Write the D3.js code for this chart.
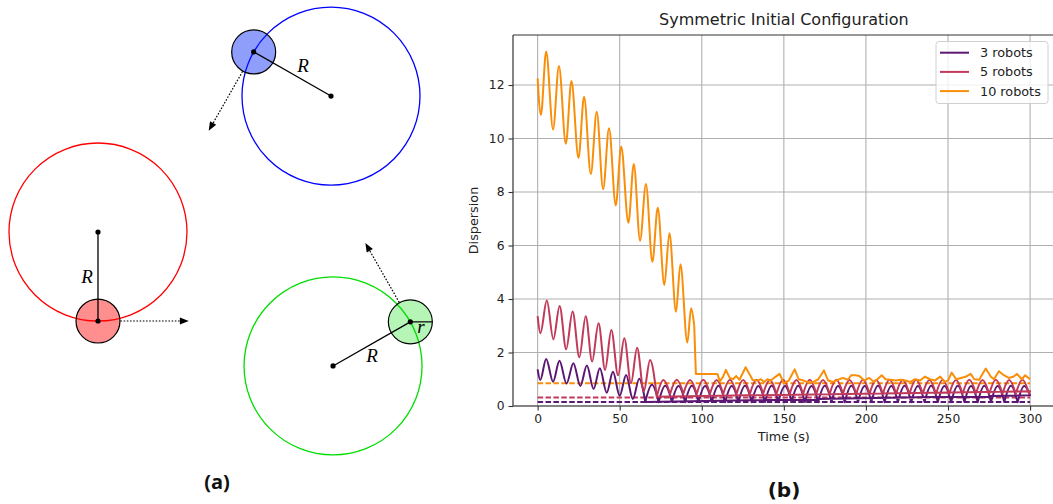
<!DOCTYPE html>
<html><head><meta charset="utf-8">
<script src="https://cdn.jsdelivr.net/npm/d3@7"></script>
<style>body{margin:0;background:#fff} svg{display:block}</style>
</head><body>
<svg id="fig" width="1053" height="504"></svg>
<script>
// ---------------- DATA ----------------
const seriesNames = ["3 robots", "5 robots", "10 robots"];
const seriesColors = ["#5c1773", "#c13a5a", "#f98e09"];
const xTicks = [0, 50, 100, 150, 200, 250, 300];
const yTicks = [0, 2, 4, 6, 8, 10, 12];
const baselines = [0.15, 0.32, 0.85];   // dashed reference levels (3, 5, 10 robots)

const purpleEarly = [[0,1.37],[1.6,0.97],[5.2,1.76],[9.4,0.91],[13.3,1.69],[17.6,0.84],[21.8,1.60],[26.0,0.75],[30.0,1.51],[34.1,0.64],[37.9,1.41],[42.1,0.50],[45.9,1.28],[50.0,0.38],[53.9,1.16],[58.0,0.26],[61.9,1.02],[65.6,0.15]];
const purpleSteady = [[65.6,0.15],[69.65,0.79],[73.7,0.14],[77.75,0.76],[81.8,0.15],[85.85,0.75],[89.9,0.14],[93.95,0.76],[98.0,0.15],[102.05,0.75],[106.1,0.15],[110.15,0.76],[114.2,0.14],[118.25,0.75],[122.3,0.15],[126.35,0.76],[130.4,0.14],[134.45,0.75],[138.5,0.15],[142.55,0.76],[146.6,0.14],[150.65,0.75],[154.7,0.15],[158.75,0.76],[162.8,0.15],[166.85,0.75],[170.9,0.14],[174.95,0.76],[179.0,0.15],[183.05,0.75],[187.1,0.14],[191.15,0.76],[195.2,0.15],[199.25,0.75],[203.3,0.15],[207.35,0.76],[211.4,0.14],[215.45,0.75],[219.5,0.15],[223.55,0.76],[227.6,0.14],[231.65,0.75],[235.7,0.15],[239.75,0.76],[243.8,0.15],[247.85,0.75],[251.9,0.14],[255.95,0.76],[260.0,0.15],[264.05,0.75],[268.1,0.14],[272.15,0.76],[276.2,0.15],[280.25,0.75],[284.3,0.15],[288.35,0.76],[292.4,0.14],[296.45,0.75],[300,0.40]];

const pinkEarly = [[0,3.36],[1.7,2.72],[5.6,3.94],[9.6,2.49],[13.4,3.74],[17.4,2.12],[21.3,3.53],[25.4,1.82],[29.3,3.36],[33.2,1.66],[37.1,3.09],[41.1,1.35],[44.9,2.84],[49.0,1.15],[52.8,2.53],[56.9,0.85],[60.6,2.18],[64.7,0.55],[68.5,1.72],[72.6,0.35]];
const pinkSteady = [[72.6,0.35],[76.65,0.97],[80.7,0.45],[84.75,0.98],[88.8,0.46],[92.85,0.97],[96.9,0.45],[100.95,0.98],[105.0,0.46],[109.05,0.97],[113.1,0.45],[117.15,0.98],[121.2,0.46],[125.25,0.97],[129.3,0.45],[133.35,0.98],[137.4,0.46],[141.45,0.97],[145.5,0.45],[149.55,0.98],[153.6,0.46],[157.65,0.97],[161.7,0.45],[165.75,0.98],[169.8,0.46],[173.85,0.97],[177.9,0.45],[181.95,0.98],[186.0,0.46],[190.05,0.97],[194.1,0.45],[198.15,0.98],[202.2,0.46],[206.25,0.97],[210.3,0.45],[214.35,0.98],[218.4,0.46],[222.45,0.97],[226.5,0.45],[230.55,0.98],[234.6,0.46],[238.65,0.97],[242.7,0.45],[246.75,0.98],[250.8,0.46],[254.85,0.97],[258.9,0.45],[262.95,0.98],[267.0,0.46],[271.05,0.97],[275.1,0.45],[279.15,0.98],[283.2,0.46],[287.25,0.97],[291.3,0.45],[295.35,0.98],[299.4,0.46],[300,0.55]];

const orangeEarly = [[0,12.25],[2.0,10.88],[5.2,13.25],[9.4,10.34],[13.0,12.71],[17.2,9.80],[20.6,12.15],[24.9,9.27],[28.3,11.56],[32.4,8.67],[36.0,11.00],[39.9,8.10],[43.5,10.38],[47.6,7.50],[50.9,9.70],[55.3,6.85],[58.6,9.05],[62.4,6.18],[66.0,8.30],[69.9,5.39],[73.2,7.41],[77.2,4.52],[80.3,6.46],[84.3,3.52],[87.0,5.30],[91.2,2.37],[93.5,3.65],[95.4,3.0]];
const orangeLate = [[95.4,3.0],[96.4,1.2],[109.5,1.2],[111,0.92],[113,1.1],[114.7,1.35],[117,1.05],[119,1.0],[121,1.12],[123,0.98],[126.7,1.45],[129,1.2],[131,0.97],[134,0.95],[136,1.0],[138,0.9],[140,1.0],[142,0.95],[144,1.05],[147.4,1.2],[150,0.85],[153,0.95],[156.6,1.37],[159,1.0],[162,0.95],[165,0.88],[168,0.9],[171,1.0],[174.4,1.33],[177,0.95],[180,0.9],[183,0.98],[186,1.05],[189,0.98],[191,1.15],[193.5,1.15],[196,1.12],[199,0.95],[202,1.05],[205,0.9],[207,1.0],[209.6,1.15],[212,1.0],[215,0.98],[218,0.95],[221,0.98],[224,0.95],[227,0.9],[230,1.0],[233,0.95],[236,1.1],[239,1.0],[242,0.95],[245.3,1.1],[248,0.9],[250,0.95],[252.2,1.25],[255,1.0],[258,1.05],[261,1.1],[263.8,1.2],[266,1.0],[269,0.98],[271,1.2],[273,1.4],[276,1.1],[278,1.0],[281,1.3],[284,1.15],[287,1.05],[290,1.1],[292,1.2],[295,1.0],[297,1.15],[300,1.0]];

// Diagram (panel a), in units of the orbit radius R
const orbitCenters = [[1.101,2.607],[3.719,1.079],[3.742,4.112]];   // red, blue, green
const robotAngles = [90, 209.7, -29.7];                               // degrees, screen orientation
const orbitColors = ["#ff0000", "#0000ff", "#00dd00"];
const robotFills = ["#ff0000", "#0020f6", "#00dc00"];
const robotAlphas = [0.44, 0.44, 0.29];
const robotRadius = 0.247;
const rLabels = [[0.978,3.18],[3.404,0.809],[4.18,4.067]];
const smallRLabel = [4.73,3.742];

// ---------------- DRAWING ----------------
const svg = d3.select("#fig");
const FONT = "DejaVu Sans, sans-serif";

// custom curve: rounded at peaks, cusp at valleys (|sin|-like arches)
function CuspCurve(ctx){ this._context = ctx; }
CuspCurve.prototype = {
  areaStart(){ this._line = 0; }, areaEnd(){ this._line = NaN; },
  lineStart(){ this._point = 0; },
  lineEnd(){ if (this._line || (this._line !== 0 && this._point === 1)) this._context.closePath(); this._line = 1 - this._line; },
  point(x, y){
    x = +x; y = +y;
    if (this._point === 0){ this._point = 1; this._line ? this._context.lineTo(x, y) : this._context.moveTo(x, y); }
    else {
      const x0 = this._x0, y0 = this._y0, dx = x - x0;
      if (y < y0) this._context.quadraticCurveTo(x0 + 0.637*dx, y, x, y);
      else this._context.quadraticCurveTo(x - 0.637*dx, y0, x, y);
    }
    this._x0 = x; this._y0 = y;
  }
};
const curveCusp = ctx => new CuspCurve(ctx);

// ---- panel (b) ----
const plot = {left: 513, right: 1054.7, top: 35, bottom: 406};
const x = d3.scaleLinear().domain([-15, 315]).range([plot.left, plot.right]);
const y = d3.scaleLinear().domain([0, 13.87]).range([plot.bottom, plot.top]);

svg.append("defs").append("clipPath").attr("id","clip")
  .append("rect").attr("x",plot.left).attr("y",plot.top)
  .attr("width",plot.right-plot.left).attr("height",plot.bottom-plot.top);

const grid = svg.append("g");
grid.selectAll(".gx").data(xTicks).join("line")
  .attr("x1",d=>x(d)).attr("x2",d=>x(d)).attr("y1",plot.top).attr("y2",plot.bottom)
  .attr("stroke","#b0b0b0").attr("stroke-width",1.1);
grid.selectAll(".gy").data(yTicks).join("line")
  .attr("y1",d=>y(d)).attr("y2",d=>y(d)).attr("x1",plot.left).attr("x2",plot.right)
  .attr("stroke","#b0b0b0").attr("stroke-width",1.1);

const gLines = svg.append("g").attr("clip-path","url(#clip)");
const lineMono = d3.line().x(d=>x(d[0])).y(d=>y(d[1])).curve(d3.curveMonotoneX);
const lineCusp = d3.line().x(d=>x(d[0])).y(d=>y(d[1])).curve(curveCusp);
const lineLin = d3.line().x(d=>x(d[0])).y(d=>y(d[1]));

// dashed reference lines
gLines.selectAll(".base").data(baselines).join("path")
  .attr("d",(d)=>lineLin([[0,d],[300,d]]))
  .attr("fill","none").attr("stroke",(d,i)=>seriesColors[i])
  .attr("stroke-width",2).attr("stroke-dasharray","5.5,2.4");

const pieces = [
  {data: purpleEarly, gen: lineMono, c: 0},
  {data: purpleSteady, gen: lineCusp, c: 0},
  {data: pinkEarly, gen: lineMono, c: 1},
  {data: pinkSteady, gen: lineCusp, c: 1},
  {data: orangeEarly, gen: lineMono, c: 2},
  {data: orangeLate, gen: lineLin, c: 2}
];
gLines.selectAll(".series").data(pieces).join("path")
  .attr("d",d=>d.gen(d.data)).attr("fill","none")
  .attr("stroke",d=>seriesColors[d.c]).attr("stroke-width",2)
  .attr("stroke-linejoin","round").attr("stroke-linecap","butt");

// spines
const spine = svg.append("g").attr("stroke","#333").attr("stroke-width",1.2);
spine.append("line").attr("x1",plot.left).attr("x2",plot.left).attr("y1",plot.top).attr("y2",plot.bottom);
spine.append("line").attr("x1",plot.left).attr("x2",plot.right).attr("y1",plot.top).attr("y2",plot.top);
spine.append("line").attr("x1",plot.left).attr("x2",plot.right).attr("y1",plot.bottom).attr("y2",plot.bottom);
spine.append("line").attr("x1",plot.right).attr("x2",plot.right).attr("y1",plot.top).attr("y2",plot.bottom);

// axes
const ax = svg.append("g").attr("transform",`translate(0,${plot.bottom})`)
  .call(d3.axisBottom(x).tickValues(xTicks).tickSize(4.5).tickPadding(4).tickFormat(d3.format("d")));
const ay = svg.append("g").attr("transform",`translate(${plot.left},0)`)
  .call(d3.axisLeft(y).tickValues(yTicks).tickSize(4.5).tickPadding(4).tickFormat(d3.format("d")));
[ax, ay].forEach(g=>{
  g.select(".domain").remove();
  g.selectAll("line").attr("stroke","#333").attr("stroke-width",1.1);
  g.selectAll("text").attr("font-family",FONT).attr("font-size",12.3).attr("fill","#222");
});

svg.append("text").attr("x",(x(0)+x(300))/2).attr("y",441).attr("text-anchor","middle")
  .attr("font-family",FONT).attr("font-size",12.8).attr("fill","#222").text("Time (s)");
svg.append("text").attr("transform",`translate(478,${(plot.top+plot.bottom)/2}) rotate(-90)`)
  .attr("text-anchor","middle").attr("font-family",FONT).attr("font-size",12.8).attr("fill","#222").text("Dispersion");
svg.append("text").attr("x",(x(0)+x(300))/2).attr("y",25).attr("text-anchor","middle")
  .attr("font-family",FONT).attr("font-size",16).attr("fill","#222").text("Symmetric Initial Configuration");

// legend
const leg = svg.append("g");
leg.append("rect").attr("x",936).attr("y",41.5).attr("width",112).attr("height",62).attr("rx",3)
  .attr("fill","#fff").attr("fill-opacity",0.8).attr("stroke","#d0d0d0").attr("stroke-width",1);
const rows = leg.selectAll(".row").data(seriesNames).join("g")
  .attr("transform",(d,i)=>`translate(0,${52.7 + i*19.2})`);
rows.append("line").attr("x1",940).attr("x2",969).attr("stroke",(d,i)=>seriesColors[i]).attr("stroke-width",2);
rows.append("text").attr("x",980).attr("y",4.5).attr("font-family",FONT).attr("font-size",12.8)
  .attr("fill","#222").text(d=>d);

svg.append("text").attr("x",784).attr("y",497).attr("text-anchor","middle")
  .attr("font-family",FONT).attr("font-weight","bold").attr("font-size",20).attr("fill","#111").text("(b)");

// ---- panel (a) ----
const u = d3.scaleLinear().domain([0,1]).range([0,89]);
const A = svg.append("g");
const rad = a => a*Math.PI/180;
const robotPos = orbitCenters.map((c,i)=>[c[0]+Math.cos(rad(robotAngles[i])), c[1]+Math.sin(rad(robotAngles[i]))]);

// orbits
A.selectAll(".orbit").data(orbitCenters).join("circle")
  .attr("cx",d=>u(d[0])).attr("cy",d=>u(d[1])).attr("r",u(1))
  .attr("fill","none").attr("stroke",(d,i)=>orbitColors[i]).attr("stroke-width",1.3);
// robots (translucent, orbit visible through them)
A.selectAll(".robot").data(robotPos).join("circle")
  .attr("cx",d=>u(d[0])).attr("cy",d=>u(d[1])).attr("r",u(robotRadius))
  .attr("fill",(d,i)=>robotFills[i]).attr("fill-opacity",(d,i)=>robotAlphas[i])
  .attr("stroke","#000").attr("stroke-width",1.2);
// radius lines
A.selectAll(".radius").data(orbitCenters).join("line")
  .attr("x1",d=>u(d[0])).attr("y1",d=>u(d[1]))
  .attr("x2",(d,i)=>u(robotPos[i][0])).attr("y2",(d,i)=>u(robotPos[i][1]))
  .attr("stroke","#000").attr("stroke-width",1.3);
// small radius r on the green robot
A.append("line").attr("x1",u(robotPos[2][0])).attr("y1",u(robotPos[2][1]))
  .attr("x2",u(robotPos[2][0]+robotRadius)).attr("y2",u(robotPos[2][1]))
  .attr("stroke","#000").attr("stroke-width",1.2);
// dots
A.selectAll(".dotc").data(orbitCenters.concat(robotPos)).join("circle")
  .attr("cx",d=>u(d[0])).attr("cy",d=>u(d[1])).attr("r",2.6).attr("fill","#000");
// velocity arrows (tangent)
robotPos.forEach((p,i)=>{
  const a = rad(robotAngles[i]);
  const dir = [Math.sin(a), -Math.cos(a)];
  const s = [p[0]+dir[0]*robotRadius*1.02, p[1]+dir[1]*robotRadius*1.02];
  const e = [p[0]+dir[0]*1.02, p[1]+dir[1]*1.02];
  const hl = 0.1, hw = 0.04;
  const b = [e[0]-dir[0]*hl, e[1]-dir[1]*hl];
  A.append("line").attr("x1",u(s[0])).attr("y1",u(s[1])).attr("x2",u(b[0])).attr("y2",u(b[1]))
    .attr("stroke","#000").attr("stroke-width",1.2).attr("stroke-dasharray","1.6,1.6");
  const n = [-dir[1], dir[0]];
  A.append("path").attr("d",d3.line()([[u(e[0]),u(e[1])],[u(b[0]+n[0]*hw),u(b[1]+n[1]*hw)],[u(b[0]-n[0]*hw),u(b[1]-n[1]*hw)]])+"Z")
    .attr("fill","#000");
});
// labels
A.selectAll(".Rlab").data(rLabels).join("text")
  .attr("x",d=>u(d[0])).attr("y",d=>u(d[1])).attr("text-anchor","middle")
  .attr("font-family","Liberation Serif, serif").attr("font-style","italic").attr("font-size",19).text("R");
A.append("text").attr("x",u(smallRLabel[0])).attr("y",u(smallRLabel[1])).attr("text-anchor","middle")
  .attr("font-family","Liberation Serif, serif").attr("font-style","italic").attr("font-size",19).text("r");
A.append("text").attr("x",217).attr("y",489).attr("text-anchor","middle")
  .attr("font-family","Open Sans, sans-serif").attr("font-weight","bold").attr("font-size",20).attr("fill","#111").text("(a)");
</script></body></html>
